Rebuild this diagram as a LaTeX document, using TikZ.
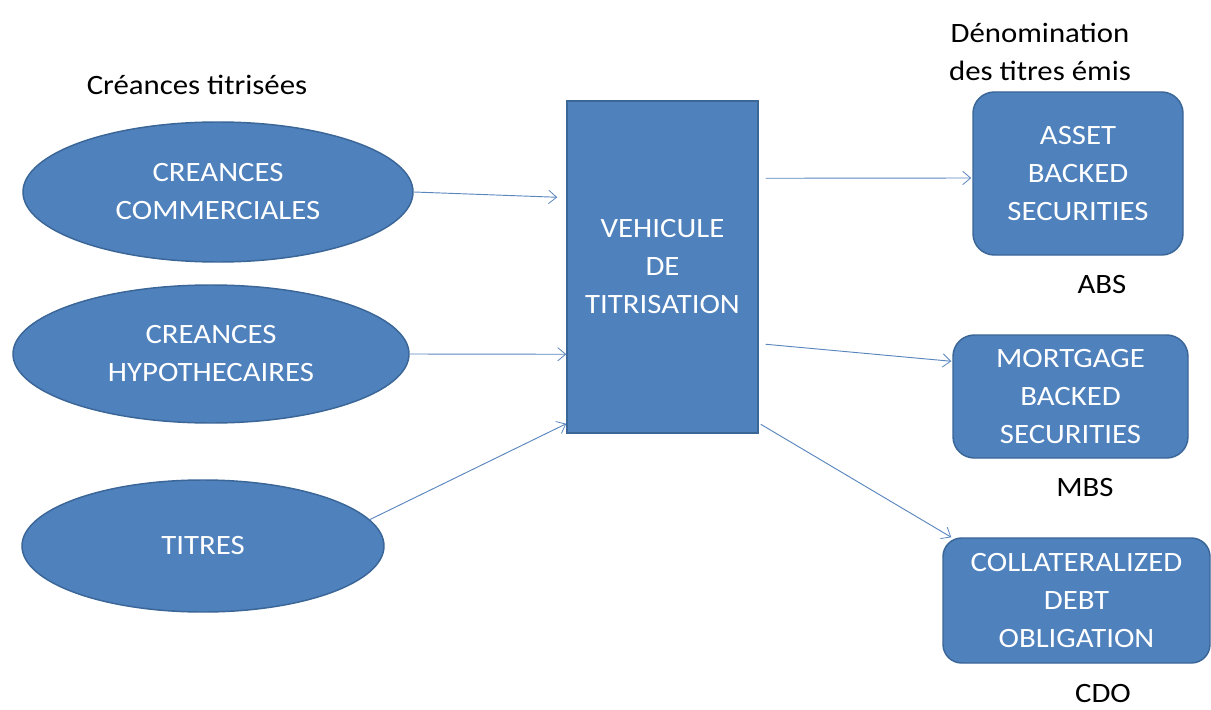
\documentclass[tikz,border=0pt]{standalone}
\usepackage{fontspec}
\setmainfont{Carlito}[FakeStretch=1.1]
\usetikzlibrary{shapes.geometric,calc,arrows.meta}
\definecolor{boxblue}{HTML}{4F81BD}
\definecolor{boxedge}{HTML}{3B6698}
\definecolor{arrowblue}{HTML}{5A86BE}
\begin{document}
\begin{tikzpicture}[x=0.75pt,y=-0.75pt,
  every node/.style={font=\fontsize{21}{28.5}\selectfont, align=center, inner sep=0pt},
  oval/.style={ellipse, fill=boxblue, draw=boxedge, line width=1.1pt, text=white},
  vehicle/.style={rectangle, fill=boxblue, draw=boxedge, line width=1.1pt, text=white},
  issue/.style={rectangle, rounded corners=16pt, fill=boxblue, draw=boxedge, line width=1.1pt, text=white},
  caption/.style={text=black},
  flow/.style={draw=arrowblue, line width=0.7pt, -{Straight Barb[length=6pt,width=10pt,line width=0.6pt]}}
]
\useasboundingbox (0,0) rectangle (1211,710);

% captions
\node[caption] (capL) at (197,85) {Créances titrisées};
\node[caption] (capR) at (1040,52) {Dénomination\\des titres émis};

% source ellipses
\node[oval, minimum width=292.5pt, minimum height=105pt] (e1) at (218,192) {CREANCES\\COMMERCIALES};
\node[oval, minimum width=297pt, minimum height=103.5pt] (e2) at (211,354) {CREANCES\\HYPOTHECAIRES};
\node[oval, minimum width=271.5pt, minimum height=99pt] (e3) at (203,546) {TITRES};

% vehicle
\node[vehicle, minimum width=143.25pt, minimum height=249pt] (veh) at (662.5,267) {VEHICULE\\DE\\TITRISATION};

% issued securities
\node[issue, minimum width=157.5pt, minimum height=122.25pt] (abs) at (1078,173.5) {ASSET\\BACKED\\SECURITIES};
\node[issue, minimum width=176.25pt, minimum height=92.25pt] (mbs) at (1070.5,396.5) {MORTGAGE\\BACKED\\SECURITIES};
\node[issue, rounded corners=14pt, minimum width=200.25pt, minimum height=93.75pt] (cdo) at (1076.5,600.5) {COLLATERALIZED\\DEBT\\OBLIGATION};

\node[caption] (absl) at (1102,285) {ABS};
\node[caption] (mbsl) at (1085,488) {MBS};
\node[caption] (cdol) at (1103,694) {CDO};

% connectors in
\draw[flow] (e1.east) -- ($(veh.north west)+(-9,97)$);
\draw[flow] (e2.east) -- ($(veh.north west)+(0,254)$);
\draw[flow] (e3.9) -- ($(veh.south west)+(0,-10)$);

% connectors out
\draw[flow] ($(veh.north east)+(7,78)$) -- ($(abs.west)+(-1,4.5)$);
\draw[flow] ($(veh.north east)+(7,244)$) -- ($(mbs.north west)+(-1,27)$);
\draw[flow] ($(veh.north east)+(2,324)$) -- ($(cdo.north west)+(9,0)$);
\end{tikzpicture}
\end{document}
